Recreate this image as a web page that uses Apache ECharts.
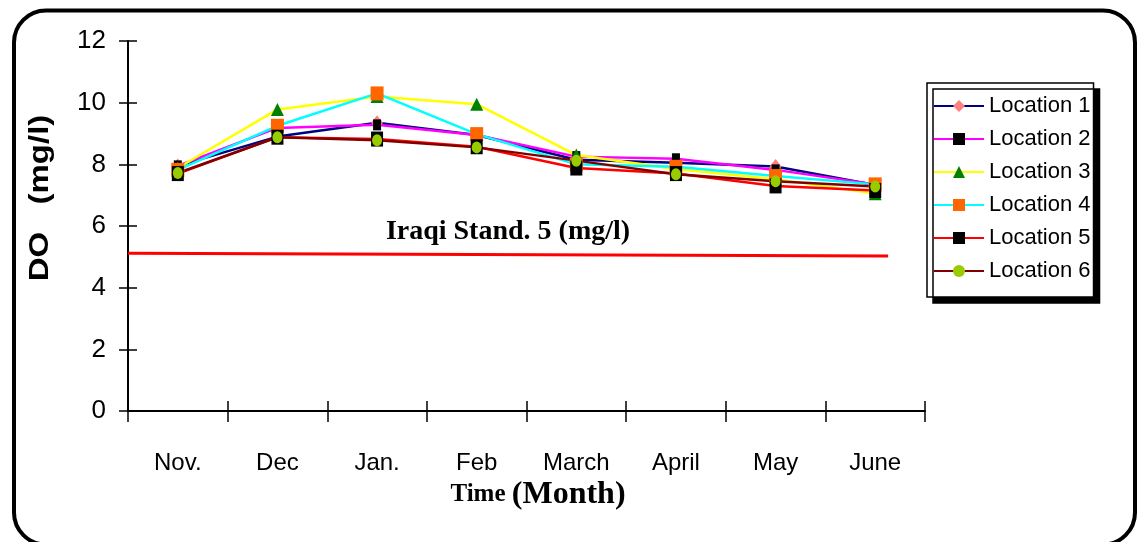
<!DOCTYPE html>
<html>
<head>
<meta charset="utf-8">
<script src="https://cdn.jsdelivr.net/npm/echarts@6/dist/echarts.min.js"></script>
<style>
html,body{margin:0;padding:0;background:#fff;}
#chart{width:1138px;height:542px;}
</style>
</head>
<body>
<div id="chart"></div>
<script>
// ---- data ----
const months = ['Nov.', 'Dec', 'Jan.', 'Feb', 'March', 'April', 'May', 'June'];
const yTicks = [0, 2, 4, 6, 8, 10, 12];
const loc1 = [7.95, 8.90, 9.35, 8.95, 8.15, 8.05, 7.93, 7.33];
const loc2 = [7.95, 9.18, 9.28, 8.95, 8.25, 8.18, 7.82, 7.35];
const loc3 = [7.88, 9.78, 10.20, 9.95, 8.30, 7.85, 7.52, 7.05];
const loc4 = [7.82, 9.25, 10.30, 8.98, 8.00, 7.92, 7.62, 7.35];
const loc5 = [7.70, 8.88, 8.82, 8.57, 7.88, 7.70, 7.30, 7.15];
const loc6 = [7.72, 8.88, 8.78, 8.55, 8.12, 7.68, 7.45, 7.28];
const standardLine = [[0, 5.12], [7.63, 5.03]];
const standardText = 'Iraqi Stand. 5 (mg/l)';
const seriesNames = ['Location 1', 'Location 2', 'Location 3', 'Location 4', 'Location 5', 'Location 6'];

const styles = [
  {line: '#000080', sym: 'diamond', size: [12, 15], color: '#FF8080'},
  {line: '#FF00FF', sym: 'rect', size: [8, 11], color: '#000000'},
  {line: '#FFFF00', sym: 'triangle', size: [13, 13], color: '#008000'},
  {line: '#00FFFF', sym: 'rect', size: [13, 14], color: '#FF6600'},
  {line: '#FF0000', sym: 'rect', size: [12, 15], color: '#000000'},
  {line: '#800000', sym: 'circle', size: [10, 12], color: '#99CC00'}
];
const allData = [loc1, loc2, loc3, loc4, loc5, loc6];

const GRID = {left: 128, right: 213, top: 41, bottom: 131};
const gridW = 1138 - GRID.left - GRID.right;
const gridH = 542 - GRID.top - GRID.bottom;

const chart = echarts.init(document.getElementById('chart'));
const series = allData.map((d, i) => ({
  name: seriesNames[i],
  type: 'line',
  data: d,
  xAxisIndex: 0,
  yAxisIndex: 0,
  symbol: styles[i].sym,
  symbolSize: styles[i].size,
  lineStyle: {color: styles[i].line, width: 2.5},
  itemStyle: {color: styles[i].color},
  emphasis: {disabled: true}
}));
series.push({
  name: 'standard',
  type: 'line',
  data: standardLine,
  xAxisIndex: 2,
  yAxisIndex: 0,
  symbol: 'none',
  lineStyle: {color: '#FF0000', width: 3},
  silent: true,
  z: 1
});
// empty helper series so the mirrored tick axes are rendered
series.push({name: 'ticks', type: 'line', data: [], xAxisIndex: 1, yAxisIndex: 1, silent: true});

const option = {
  animation: false,
  backgroundColor: '#ffffff',
  grid: Object.assign({containLabel: false}, GRID),
  xAxis: [
    {
      type: 'category', data: months, boundaryGap: true,
      axisLine: {lineStyle: {color: '#000', width: 2}},
      axisTick: {show: true, length: 11, lineStyle: {color: '#000', width: 1.5}},
      axisLabel: {color: '#000', fontSize: 24, fontFamily: '"Liberation Sans Narrow", "Arial Narrow", Arial, sans-serif', margin: 40},
      splitLine: {show: false}
    },
    {
      // mirrored axis placed on the bottom edge, ticks pointing up into the plot
      type: 'category', data: months, boundaryGap: true, position: 'top', offset: -gridH,
      axisLine: {show: false},
      axisTick: {show: true, inside: false, length: 10, lineStyle: {color: '#000', width: 1.5}},
      axisLabel: {show: false},
      splitLine: {show: false}
    },
    {
      type: 'value', min: 0, max: 8, show: false
    }
  ],
  yAxis: [
    {
      type: 'value', min: 0, max: 12, interval: 2,
      axisLine: {show: true, lineStyle: {color: '#000', width: 2}},
      axisTick: {show: true, length: 9, lineStyle: {color: '#000', width: 1.5}},
      axisLabel: {color: '#000', fontSize: 26, fontFamily: 'Arial, "Liberation Sans", sans-serif', margin: 22},
      splitLine: {show: false}
    },
    {
      // mirrored axis placed on the left edge, ticks pointing right into the plot
      type: 'value', min: 0, max: 12, interval: 2, position: 'right', offset: -gridW,
      axisLine: {show: false},
      axisTick: {show: true, inside: false, length: 9, lineStyle: {color: '#000', width: 1.5}},
      axisLabel: {show: false},
      splitLine: {show: false}
    }
  ],
  legend: {
    data: seriesNames,
    orient: 'vertical',
    left: 927, top: 83,
    padding: [12, 3, 15, 6],
    itemWidth: 50, itemHeight: 15, itemGap: 11,
    backgroundColor: '#fff',
    borderColor: '#000', borderWidth: 1.5,
    shadowColor: '#000', shadowBlur: 0, shadowOffsetX: 6, shadowOffsetY: 6,
    textStyle: {color: '#000', fontSize: 22, lineHeight: 22, fontFamily: 'Arial, "Liberation Sans", sans-serif', padding: [0, 0, 0, 0]},
    selectedMode: false
  },
  graphic: [
    {
      type: 'rect', z: -10, silent: true,
      shape: {x: 14, y: 10.5, width: 1121, height: 534, r: 32},
      style: {fill: 'none', stroke: '#000', lineWidth: 4}
    },
    {
      type: 'text', silent: true,
      x: 508, y: 232,
      style: {text: standardText, font: 'bold 28px "Liberation Serif", "Times New Roman", serif', fill: '#000', align: 'center', verticalAlign: 'middle'}
    },
    {
      type: 'text', silent: true,
      rotation: Math.PI / 2,
      scaleX: 1.22,
      x: 41, y: 198,
      style: {text: 'DO   (mg/l)', font: 'bold 27px Arial, "Liberation Sans", sans-serif', fill: '#000', align: 'center', verticalAlign: 'middle'}
    },
    {
      type: 'text', silent: true,
      x: 538, y: 495,
      style: {
        text: '{a|Time }{b|(Month)}',
        align: 'center', verticalAlign: 'middle',
        rich: {
          a: {font: 'bold 25px "Liberation Serif", "Times New Roman", serif', color: '#000'},
          b: {font: 'bold 32px "Liberation Serif", "Times New Roman", serif', color: '#000'}
        }
      }
    }
  ],
  series: series
};
chart.setOption(option);
</script>
</body>
</html>
